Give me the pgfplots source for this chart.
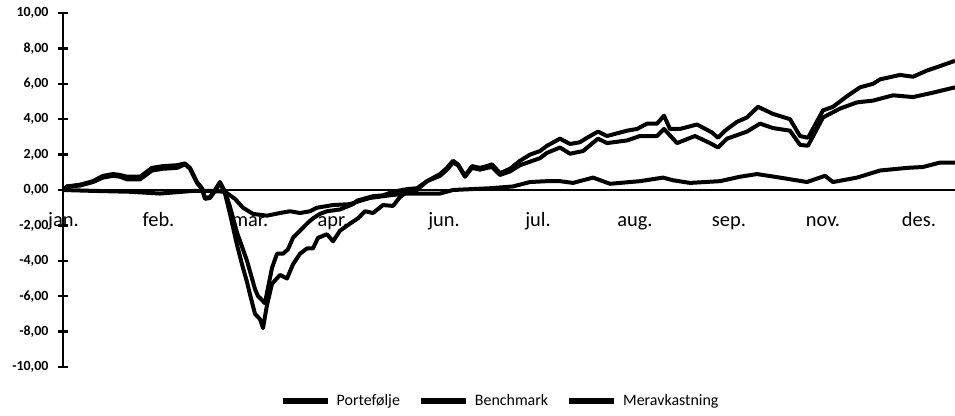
\documentclass[border=0pt]{standalone}
\usepackage{fontspec}
\setmainfont{Carlito}
\usepackage{pgfplots}
\pgfplotsset{compat=1.18}
\pgfplotsset{ln/.style={black, line width=4bp, line join=round}}
\begin{document}
\begin{tikzpicture}
\path[use as bounding box] (0,0) rectangle (955bp,416bp);
\begin{axis}[
  at={(63bp,49bp)}, anchor=south west,
  scale only axis, width=892bp, height=354bp,
  xmin=63, xmax=955, ymin=-10, ymax=10,
  axis y line=left, axis x line=middle,
  hide obscured x ticks=false,
  x axis line style={-, line width=1.8bp},
  y axis line style={-, line width=2.5bp},
  ytick={-10,-8,...,10},
  yticklabels={{-10,00},{-8,00},{-6,00},{-4,00},{-2,00},{0,00},{2,00},{4,00},{6,00},{8,00},{10,00}},
  ytick align=center,
  major tick length=10bp,
  ytick style={line width=2.5bp, black},
  yticklabel style={font=\fontsize{14}{14}\selectfont\bfseries, xshift=-6bp},
  xtick={63.5,158.5,250,333,444,538,635,729,823,919},
  xticklabels={jan.,feb.,mar.,apr.,jun.,jul.,aug.,sep.,nov.,des.},
  xtick style={draw=none},
  xticklabel style={font=\fontsize{20.5}{20.5}\selectfont, anchor=north, text height=15bp, text depth=4bp, yshift=-13bp},
  legend style={draw=none, fill=none, at={(axis description cs:0.49,-0.095)}, anchor=center,
    font=\fontsize{16}{16}\selectfont,
    /tikz/every even column/.append style={column sep=16bp}},
  legend columns=3,
  legend image code/.code={\draw[#1, line width=6bp] (0bp,0bp) -- (45bp,0bp);},
]
% Portefolje
\addplot[ln] coordinates {
(63,0) (67,0.2) (80,0.25) (93,0.45) (103,0.7) (113,0.8) (120,0.75) (127,0.6) (140,0.6)
(152,1.1) (163,1.2) (177,1.25) (185,1.45) (190,1.2) (197,0.4) (202,0.05) (205,-0.5)
(210,-0.45) (215,-0.05) (220,0.4) (225,-0.2) (230,-1.35) (237,-3.1) (242,-4.2) (247,-5.2)
(250,-5.9) (255,-7.0) (260,-7.3) (263,-7.8) (267,-6.5) (272,-5.3) (280,-4.8) (287,-5.0)
(293,-4.2) (300,-3.6) (307,-3.3) (313,-3.3) (318,-2.7) (327,-2.5) (333,-2.9) (340,-2.3)
(350,-1.9) (358,-1.6) (365,-1.2) (373,-1.3) (383,-0.85) (393,-0.9) (400,-0.4) (407,-0.1)
(417,0.0) (427,0.5) (440,0.9) (447,1.25) (453,1.65) (458,1.45) (465,0.8) (472,1.35)
(480,1.25) (487,1.35) (492,1.45) (500,0.95) (510,1.2) (520,1.65) (530,2.0) (540,2.2)
(547,2.5) (560,2.9) (570,2.6) (580,2.7) (587,2.95) (598,3.3) (607,3.05) (617,3.2)
(627,3.35) (637,3.45) (647,3.75) (657,3.75) (664,4.2) (670,3.45) (680,3.45) (697,3.7)
(712,3.25) (718,2.95) (725,3.35) (737,3.85) (747,4.1) (758,4.7) (773,4.3) (790,4.0)
(800,3.05) (808,2.95) (823,4.5) (833,4.7) (847,5.3) (860,5.8) (873,6.0) (880,6.25)
(900,6.5) (913,6.4) (927,6.75) (940,7.0) (955,7.3)
};
\addlegendentry{\hspace{4bp}Portefølje}
% Benchmark
\addplot[ln] coordinates {
(63,0) (67,0.2) (80,0.3) (93,0.5) (103,0.8) (113,0.9) (120,0.85) (127,0.75) (140,0.75)
(152,1.25) (163,1.35) (177,1.4) (185,1.5) (190,1.25) (197,0.45) (202,0.1) (205,-0.45)
(210,-0.4) (215,0.0) (220,0.45) (225,-0.1) (230,-0.95) (237,-2.4) (242,-3.2) (247,-4.0)
(250,-4.6) (255,-5.6) (258,-6.0) (260,-6.1) (265,-6.4) (267,-5.8) (272,-4.4) (277,-3.6)
(283,-3.6) (288,-3.35) (293,-2.7) (300,-2.3) (307,-1.9) (313,-1.6) (320,-1.35) (327,-1.2)
(340,-1.1) (353,-0.8) (357,-0.6) (373,-0.35) (383,-0.3) (393,-0.1) (407,0.05) (417,0.1)
(427,0.5) (440,0.8) (447,1.15) (453,1.55) (458,1.4) (465,0.75) (472,1.25) (480,1.15)
(487,1.25) (492,1.3) (500,0.85) (510,1.05) (520,1.4) (530,1.6) (540,1.8) (547,2.1)
(560,2.4) (570,2.05) (583,2.2) (598,2.9) (607,2.65) (627,2.8) (640,3.05) (657,3.05)
(664,3.45) (677,2.65) (695,3.05) (710,2.65) (718,2.4) (727,2.9) (737,3.1) (747,3.3)
(760,3.75) (773,3.5) (790,3.35) (800,2.55) (808,2.5) (823,4.1) (840,4.6) (857,4.95)
(873,5.05) (893,5.35) (913,5.25) (933,5.5) (955,5.8)
};
\addlegendentry{\hspace{4bp}Benchmark}
% Meravkastning
\addplot[ln] coordinates {
(63,0) (93,-0.05) (130,-0.1) (160,-0.2) (193,-0.05) (210,-0.05) (225,-0.1) (235,-0.5)
(243,-1.0) (253,-1.35) (267,-1.45) (280,-1.3) (290,-1.2) (300,-1.3) (310,-1.2) (317,-1.0)
(333,-0.85) (350,-0.8) (358,-0.65) (370,-0.45) (390,-0.3) (407,-0.2) (440,-0.2) (453,0.0)
(490,0.1) (513,0.2) (530,0.45) (547,0.5) (560,0.5) (573,0.4) (593,0.7) (610,0.35)
(640,0.5) (663,0.7) (673,0.55) (690,0.4) (720,0.5) (740,0.75) (757,0.9) (780,0.7)
(807,0.45) (825,0.8) (833,0.45) (857,0.7) (880,1.1) (907,1.25) (923,1.3) (940,1.55) (955,1.55)
};
\addlegendentry{\hspace{4bp}Meravkastning}
\end{axis}
\end{tikzpicture}
\end{document}
